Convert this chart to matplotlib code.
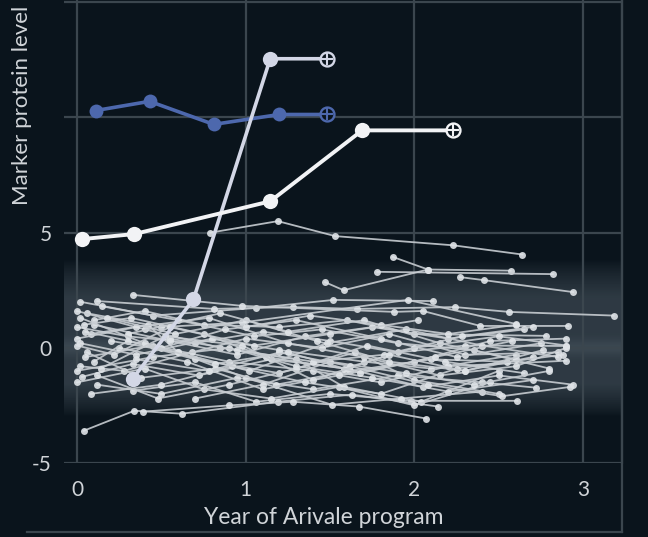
import matplotlib.pyplot as plt
import numpy as np
from matplotlib.lines import Line2D

# highlighted participants (years, marker level); last point is the projected value
blue_t = [0.11, 0.43, 0.81, 1.20]
blue_v = [10.3, 10.7, 9.7, 10.13]
blue_end = (1.48, 10.13)

lav_t = [0.33, 0.69, 1.145]
lav_v = [-1.34, 2.1, 12.55]
lav_end = (1.48, 12.55)

white_t = [0.03, 0.34, 1.145, 1.69]
white_v = [4.72, 4.94, 6.36, 9.44]
white_end = (2.23, 9.44)

# everyone else
others_t = [
    [0.79, 1.19, 1.53, 2.23, 2.64],
    [1.87, 2.08, 2.57],
    [1.78, 2.82],
    [1.47, 1.58, 2.08],
    [2.27, 2.41, 2.94],
    [0.02, 0.45, 1.06, 1.52, 2.11],
    [0.12, 0.81, 1.28, 1.66, 2.24, 2.56, 3.18],
    [0.33, 0.98, 1.88, 2.05, 2.39, 2.91],
    [0.06, 0.5, 0.98, 1.96, 2.6],
    [0.1, 0.4, 0.75, 1.2, 1.6, 2.0, 2.78],
    [0.0, 0.3, 0.7, 1.1, 1.5, 1.9, 2.3, 2.9],
    [0.02, 0.35, 0.8, 1.2, 1.7, 2.1, 2.6],
    [0.05, 0.45, 0.9, 1.4, 1.8, 2.2, 2.9],
    [0.03, 0.33, 0.72, 1.15, 1.6, 2.05, 2.5, 2.94],
    [0.12, 0.5, 0.95, 1.4, 1.9, 2.4, 2.72],
    [0.33, 0.7, 1.06, 1.5, 1.98, 2.61],
    [0.04, 0.34, 0.62, 1.19, 1.63, 2.14],
    [0.39, 0.9, 1.28, 1.67, 2.07],
    [0.0, 0.4, 0.85, 1.3, 1.58, 2.04, 2.5],
    [0.08, 0.42, 0.6, 1.0, 1.51, 1.92, 2.4],
    [0.02, 0.28, 0.68, 1.0, 1.45, 1.85, 2.3, 2.85],
    [0.1, 0.55, 0.95, 1.35, 1.75, 2.2, 2.65],
    [0.0, 0.35, 0.78, 1.25, 1.7, 2.15, 2.6, 2.9],
    [0.06, 0.38, 0.82, 1.18, 1.62, 2.1, 2.55],
    [0.15, 0.6, 1.05, 1.45, 1.9, 2.35, 2.8],
    [0.0, 0.45, 0.9, 1.3, 1.75, 2.2, 2.7],
    [0.25, 0.65, 1.1, 1.55, 2.0, 2.45, 2.9],
    [0.05, 0.5, 0.88, 1.3, 1.8, 2.25, 2.75],
    [0.1, 0.3, 0.7, 1.2, 1.65, 2.0, 2.5],
    [0.18, 0.58, 1.0, 1.42, 1.85, 2.3, 2.7],
    [0.0, 0.4, 0.75, 1.15, 1.55, 2.0, 2.45],
    [0.3, 0.85, 1.25, 1.7, 2.15, 2.6],
    [0.08, 0.5, 0.92, 1.35, 1.8, 2.25, 2.88],
    [0.2, 0.6, 1.02, 1.48, 1.95, 2.4, 2.85],
    [0.04, 0.32, 0.75, 1.12, 1.58, 2.0, 2.5, 2.9],
    [0.12, 0.48, 0.9, 1.3, 1.72, 2.18, 2.65],
    [1.0, 1.38, 1.8, 2.2, 2.6],
    [0.7, 1.1, 1.5, 1.95, 2.35, 2.8],
    [0.55, 0.95, 1.4, 1.82, 2.28, 2.7],
    [0.0, 0.22, 0.55, 1.05, 1.5, 2.02],
    [0.35, 0.78, 1.2, 1.62, 2.08, 2.52, 2.92],
    [0.02, 0.4, 0.82, 1.25, 1.68, 2.12, 2.58],
    [0.14, 0.52, 0.98, 1.4, 1.85, 2.3, 2.76],
]
others_v = [
    [5.0, 5.5, 4.85, 4.45, 4.05],
    [3.95, 3.4, 3.35],
    [3.3, 3.2],
    [2.85, 2.5, 3.4],
    [3.07, 2.94, 2.42],
    [2.0, 1.4, 1.73, 2.08, 2.03],
    [2.03, 1.69, 1.77, 1.69, 1.77, 1.56, 1.4],
    [2.3, 1.82, 1.56, 1.6, 0.95, 0.95],
    [1.5, 0.9, 1.1, 2.08, 1.04],
    [1.2, 1.6, 1.0, 0.9, 1.2, 0.6, 0.52],
    [0.9, 0.5, 0.2, 0.7, 0.3, -0.2, 0.1, 0.08],
    [0.2, -0.3, 0.4, -0.1, -0.6, -0.9, -0.3],
    [-0.4, 0.1, -0.6, -1.0, -1.5, -0.8, -0.56],
    [-1.26, -0.7, -1.2, -0.5, -0.9, -1.7, -1.2, -1.6],
    [-1.6, -2.0, -1.3, -1.8, -1.2, -1.5, -1.73],
    [-1.86, -1.5, -2.34, -2.0, -2.3, -2.3],
    [-3.6, -2.73, -2.86, -2.34, -2.03, -2.55],
    [-2.77, -2.5, -2.34, -2.55, -3.07],
    [1.6, 0.8, 0.0, -0.5, -1.69, -2.34, -1.0],
    [0.6, 1.0, -0.2, -1.3, -2.47, -2.2, -1.9],
    [-0.8, -1.0, -0.2, 0.4, 0.0, 0.6, -0.3, -0.2],
    [1.0, 0.3, -0.3, 0.5, 0.9, 0.4, 0.8],
    [0.4, 0.9, 1.3, 0.2, -0.4, -1.2, -0.8, 0.0],
    [-0.2, -1.3, -0.9, -1.6, -1.0, -0.5, -0.6],
    [1.8, 1.2, 0.5, 0.8, 0.2, -0.1, -0.9],
    [-1.0, -0.4, 0.0, -0.8, -1.3, -1.9, -1.4],
    [0.0, -0.6, -1.8, -1.2, -0.6, 0.3, 0.4],
    [0.7, 0.0, 0.8, 1.2, 0.4, -0.4, 0.2],
    [-0.6, 0.3, -0.5, -1.1, -0.2, -1.4, -2.0],
    [1.3, 0.6, 1.2, 0.3, -0.6, -1.0, -0.4],
    [-1.5, -0.9, -1.8, -2.2, -1.7, -2.5, -1.5],
    [0.6, 1.5, 0.7, 1.2, 0.2, -0.5],
    [-2.0, -1.6, -0.8, -1.5, -2.0, -0.9, -0.3],
    [0.3, -0.2, -1.0, 0.2, 0.8, 0.1, -0.4],
    [1.0, 1.3, 0.6, -0.4, -0.9, 0.0, 0.5, 0.1],
    [-1.2, -2.2, -1.6, -0.9, 0.1, -0.6, -1.1],
    [0.9, 1.4, 1.0, 0.6, 1.0],
    [-2.2, -1.6, -0.6, -1.1, -1.6, -1.0],
    [0.4, -0.1, -0.6, -0.3, 0.5, 0.9],
    [0.1, -0.3, 0.9, 0.1, 0.6, 1.2],
    [-0.5, -1.0, -0.2, -0.8, -1.6, -2.1, -1.7],
    [1.3, 0.2, -0.7, -0.2, -1.1, -0.4, 0.3],
    [-0.9, 0.5, 0.1, -1.4, -0.3, -1.0, -0.1],
]

xticks = [0, 1, 2, 3]
yticks = [-5, 0, 5, 10, 15]
ytick_labels = ['-5', '0', '5', '', '']

bg = '#0a141c'
txt = '#d0d4d8'
gridc = '#3b464e'

plt.rcParams['font.family'] = ['Lato', 'DejaVu Sans']

fig = plt.figure(figsize=(6.48, 5.37), dpi=100, facecolor=bg)
ax = fig.add_axes([0.0988, 0.1378, 0.8611, 0.8622], facecolor=bg)
ax.set_xlim(-0.077, 3.23)
ax.set_ylim(-5, 15.1)

# soft light band behind the normal range
yy = np.linspace(-5, 15.1, 400)
prof = np.clip((yy + 3.0) / 1.4, 0, 1) * np.clip((3.8 - yy) / 1.6, 0, 1)
prof = prof ** 0.8
core = np.exp(-((yy - 0.0) / 0.35) ** 2) * 0.25
alpha = np.clip(prof * 0.2 + core * 0.3, 0, 1)
band = np.zeros((400, 2, 4))
band[..., 0] = 0.75
band[..., 1] = 0.82
band[..., 2] = 0.88
band[..., 3] = alpha[:, None]
ax.imshow(band, extent=[-0.077, 3.23, -5, 15.1], origin='lower', aspect='auto',
          zorder=0, interpolation='bilinear')

ax.set_xticks(xticks)
ax.set_yticks(yticks)
ax.set_yticklabels(ytick_labels)
ax.grid(True, color=gridc, lw=1.6, zorder=1)
ax.set_axisbelow(True)
for side in ['top', 'left', 'bottom']:
    ax.spines[side].set_visible(False)
ax.spines['right'].set_color(gridc)
ax.spines['right'].set_linewidth(1.6)
ax.tick_params(length=0, colors=txt, labelsize=15)
ax.tick_params(axis='x', pad=12)
ax.tick_params(axis='y', pad=9)

for t, v in zip(others_t, others_v):
    ax.plot(t, v, color='#c8cdd2', lw=1.3, alpha=0.9, marker='o', ms=5,
            mfc='#e0e4e8', mec='none', zorder=3)

def traj(t, v, end, col, ms, lw, mfc=None):
    ax.plot(t + [end[0]], v + [end[1]], color=col, lw=lw, zorder=5)
    ax.plot(t, v, ls='none', marker='o', ms=ms, mfc=mfc or col, mec='none', zorder=6)
    ax.plot([end[0]], [end[1]], ls='none', marker='o', ms=10, mfc=bg, mec=col,
            mew=1.7, zorder=6)
    ax.plot([end[0]], [end[1]], ls='none', marker='+', ms=8, mec=col, mew=1.5, zorder=7)

traj(blue_t, blue_v, blue_end, '#4d68ad', 10, 2.6)
traj(lav_t, lav_v, lav_end, '#d3d7e6', 11, 2.6)
traj(white_t, white_v, white_end, '#f2f3f5', 11, 2.8)

fig.text(0.034, 0.803, 'Marker protein level', rotation=90, ha='center', va='center',
         color=txt, fontsize=16)
fig.text(0.5, 0.037, 'Year of Arivale program', ha='center', va='center',
         color=txt, fontsize=16.5)

# frame lines around the panel
fig.add_artist(Line2D([27 / 648, 622 / 648], [5 / 537, 5 / 537], color=gridc, lw=1.6))
fig.add_artist(Line2D([622 / 648, 622 / 648], [5 / 537, 1.0], color=gridc, lw=1.6))

fig.savefig('out.png', dpi=100, facecolor=bg)
